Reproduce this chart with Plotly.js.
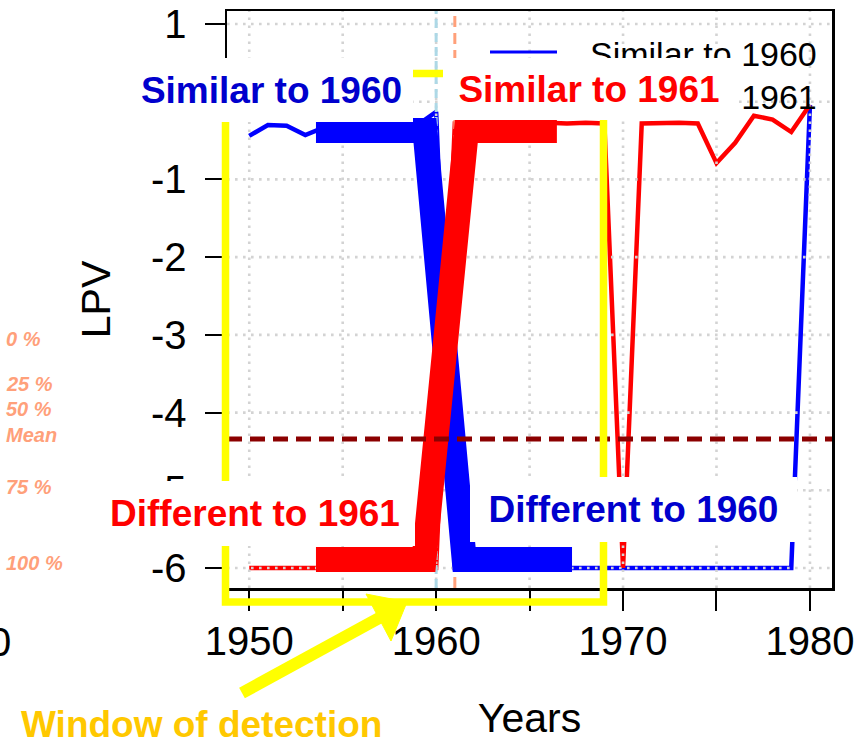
<!DOCTYPE html>
<html>
<head>
<meta charset="utf-8">
<script src="https://cdn.plot.ly/plotly-3.0.1.min.js"></script>
<style>
  html, body { margin: 0; padding: 0; background: #ffffff; }
  #chart { width: 867px; height: 743px; }
</style>
</head>
<body>
<div id="chart"></div>
<script>
// ---------------- DATA ----------------
const years = [1950,1951,1952,1953,1954,1955,1956,1957,1958,1959,1960,
               1961,1962,1963,1964,1965,1966,1967,1968,1969,1970,
               1971,1972,1973,1974,1975,1976,1977,1978,1979,1980];
// LPV of each year compared with 1960 (blue) and with 1961 (red)
const similar1960 = [-0.44,-0.30,-0.31,-0.43,-0.33,-0.29,-0.28,-0.29,-0.28,-0.30,-0.13,
                     -6,-6,-6,-6,-6,-6,-6,-6,-6,-6,
                     -6,-6,-6,-6,-6,-6,-6,-6,-6,-0.04];
const similar1961 = [-6,-6,-6,-6,-6,-6,-6,-6,-6,-6,-6,
                     -0.28,-0.27,-0.27,-0.28,-0.27,-0.27,-0.28,-0.27,-0.28,-6,
                     -0.28,-0.27,-0.27,-0.28,-0.79,-0.53,-0.18,-0.23,-0.39,-0.04];
// thick "window of detection" profiles
const window1960Years = [1953.57, 1959.40, 1961.50, 1967.27];
const window1960LPV   = [-0.37, -0.37, -5.89, -5.89];
const window1961Years = [1953.57, 1959.35, 1961.62, 1966.46];
const window1961LPV   = [-5.89, -5.89, -0.37, -0.37];
const referenceYears = [1960, 1961];
const meanLPV = -4.34;
const quantileLabels = ['0 %', '25 %', '50 %', 'Mean', '75 %', '100 %'];
const quantileLPV    = [-3.05, -3.63, -3.95, -4.29, -4.96, -5.94];
const xTickVals = [1950, 1955, 1960, 1965, 1970, 1975, 1980];
const xTickText = ['1950', '', '1960', '', '1970', '', '1980'];
const yTickVals = [-6, -5, -4, -3, -2, -1, 0, 1];
const yTickText = ['-6', '-5', '-4', '-3', '-2', '-1', '0', '1'];
const legendNames = ['Similar to 1960', 'Similar to 1961'];

// ---------------- LAYOUT CONSTANTS ----------------
const X_RANGE = [1948.81, 1981.18];
const Y_RANGE = [-6.257, 1.167];
const FONT = 'Liberation Sans, Arial, sans-serif';
const PL = 227, PR = 832, PT = 11, PB = 588;
const px = v => (v - PL) / (PR - PL);
const py = v => (PB - v) / (PB - PT);

// grid (dotted, drawn over thin lines but under the thick profiles)
const gx = [], gy = [];
xTickVals.forEach(v => { gx.push(v, v, null); gy.push(Y_RANGE[0], Y_RANGE[1], null); });
yTickVals.forEach(v => { gx.push(X_RANGE[0], X_RANGE[1], null); gy.push(v, v, null); });

const traces = [
  { x: years, y: similar1960, type: 'scatter', mode: 'lines', name: legendNames[0],
    line: { color: '#0000FF', width: 4.5 }, showlegend: false },
  { x: years, y: similar1961, type: 'scatter', mode: 'lines', name: legendNames[1],
    line: { color: '#FF0000', width: 4.5 }, showlegend: false },
  { x: gx, y: gy, type: 'scatter', mode: 'lines', hoverinfo: 'skip', showlegend: false,
    line: { color: '#D3D3D3', width: 2.6, dash: '2.6px,5.4px' } },
  { x: [referenceYears[0], referenceYears[0]], y: Y_RANGE, type: 'scatter', mode: 'lines',
    showlegend: false, line: { color: '#ADD8E6', width: 3, dash: '9px,5px' } },
  { x: [referenceYears[1], referenceYears[1]], y: Y_RANGE, type: 'scatter', mode: 'lines',
    showlegend: false, line: { color: '#FFA07A', width: 3, dash: '11px,6px' } },
  { x: window1960Years, y: window1960LPV, type: 'scatter', mode: 'lines', showlegend: false,
    line: { color: '#0000FF', width: 25 } },
  { x: window1961Years, y: window1961LPV, type: 'scatter', mode: 'lines', showlegend: false,
    line: { color: '#FF0000', width: 25 } },
  { x: X_RANGE, y: [meanLPV, meanLPV], type: 'scatter', mode: 'lines', showlegend: false,
    line: { color: '#8B0000', width: 5, dash: '15px,8px' } }
];

const shapes = [
  // window of detection frame
  { type: 'rect', xref: 'paper', yref: 'paper', layer: 'above',
    x0: px(225.5), x1: px(603.5), y0: py(602), y1: py(73.5),
    line: { color: '#FFFF00', width: 7.5 }, fillcolor: 'rgba(0,0,0,0)' },
  // arrow shaft
  { type: 'line', xref: 'paper', yref: 'paper', layer: 'above',
    x0: px(242), y0: py(693), x1: px(381), y1: py(617),
    line: { color: '#FFFF00', width: 12 } },
  // arrow head
  { type: 'path', xref: 'paper', yref: 'paper', layer: 'above',
    path: 'M' + px(407) + ',' + py(602) + ' L' + px(366) + ',' + py(594) +
          ' L' + px(391) + ',' + py(641) + ' Z',
    fillcolor: '#FFFF00', line: { color: '#FFFF00', width: 1 } },
  // legend keys
  { type: 'line', xref: 'paper', yref: 'paper', layer: 'above',
    x0: px(490), x1: px(557), y0: py(52), y1: py(52), line: { color: '#0000FF', width: 3 } },
  { type: 'line', xref: 'paper', yref: 'paper', layer: 'above',
    x0: px(490), x1: px(557), y0: py(97), y1: py(97), line: { color: '#FF0000', width: 3 } }
];

const boxLabel = (text, color, cx, cy, w, h) => ({
  text: '<b>' + text + '</b>', xref: 'paper', yref: 'paper', x: px(cx), y: py(cy),
  xanchor: 'center', yanchor: 'middle', showarrow: false, width: w, height: h,
  bgcolor: '#FFFFFF', borderpad: 0, borderwidth: 0, align: 'center', valign: 'middle',
  font: { family: FONT, size: 37, color: color }
});

const annotations = [
  // legend text
  { text: legendNames[0], xref: 'paper', yref: 'paper', x: px(588), y: py(54),
    xanchor: 'left', yanchor: 'middle', showarrow: false,
    font: { family: FONT, size: 34, color: '#000000' } },
  { text: legendNames[1], xref: 'paper', yref: 'paper', x: px(588), y: py(97),
    xanchor: 'left', yanchor: 'middle', showarrow: false,
    font: { family: FONT, size: 34, color: '#000000' } },
  // labels with white boxes
  boxLabel('Similar to 1960', '#0000CD', 271.5, 90, 283, 64),
  boxLabel('Similar to 1961', '#FF0000', 589, 89, 292, 62),
  boxLabel('Different to 1961', '#FF0000', 255, 513.5, 320, 65),
  boxLabel('Different to 1960', '#0000CD', 633, 509.5, 327, 65),
  // window text
  { text: '<b>Window of detection</b>', xref: 'paper', yref: 'paper', x: px(201), y: py(724),
    xanchor: 'center', yanchor: 'middle', showarrow: false,
    font: { family: FONT, size: 37, color: '#FFC800' } },
  // stray clipped label at the left edge
  { text: '0', xref: 'paper', yref: 'paper', x: px(13), y: py(642),
    xanchor: 'right', yanchor: 'middle', showarrow: false,
    font: { family: FONT, size: 40, color: '#000000' } }
];
quantileLabels.forEach((t, i) => {
  annotations.push({ text: '<b><i>' + t + '</i></b>', xref: 'paper', yref: 'y',
    x: px(4), y: quantileLPV[i], xanchor: 'left', yanchor: 'middle', showarrow: false,
    font: { family: FONT, size: 20, color: '#FFA07A' } });
});

const axisCommon = {
  showgrid: false, zeroline: false, showline: true, mirror: true,
  linecolor: '#000000', linewidth: 2.5, ticks: 'outside', ticklen: 20,
  tickwidth: 2, tickcolor: '#000000',
  tickfont: { family: FONT, size: 40, color: '#000000' }
};

const layout = {
  width: 867, height: 743,
  margin: { l: PL, r: 867 - PR, t: PT, b: 743 - PB, pad: 0 },
  paper_bgcolor: '#FFFFFF', plot_bgcolor: '#FFFFFF',
  showlegend: false,
  xaxis: Object.assign({}, axisCommon, {
    range: X_RANGE, tickmode: 'array', tickvals: xTickVals, ticktext: xTickText,
    ticklabelstandoff: -4,
    title: { text: 'Years', standoff: 42, font: { family: FONT, size: 41, color: '#000000' } }
  }),
  yaxis: Object.assign({}, axisCommon, {
    range: Y_RANGE, tickmode: 'array', tickvals: yTickVals, ticktext: yTickText,
    ticklabelstandoff: 10,
    title: { text: 'LPV', standoff: 28, font: { family: FONT, size: 41, color: '#000000' } }
  }),
  shapes: shapes,
  annotations: annotations
};

Plotly.newPlot('chart', traces, layout, { displayModeBar: false, staticPlot: true });
</script>
</body>
</html>
